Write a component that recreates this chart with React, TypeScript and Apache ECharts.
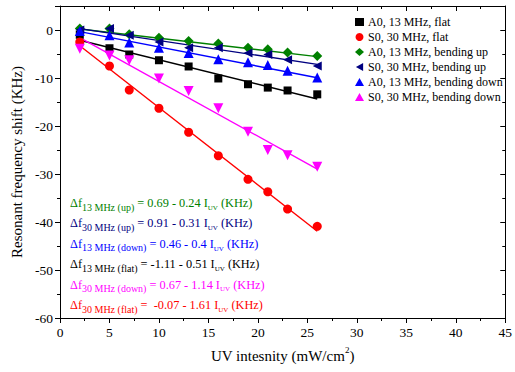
import React, { useEffect, useRef } from "react";
import * as echarts from "echarts";

const xs = [2, 5, 7, 10, 13, 16, 19, 21, 23, 26];
const seriesNames = [
  "A0, 13 MHz, flat",
  "S0, 30 MHz, flat",
  "A0, 13 MHz, bending up",
  "S0, 30 MHz, bending up",
  "A0, 13 MHz, bending down",
  "S0, 30 MHz, bending down",
];
const a0Flat = [-1.0, -3.8, -5.1, -6.3, -7.6, -10.1, -11.3, -12.0, -12.6, -13.4];
const s0Flat = [-2.5, -7.5, -12.5, -16.3, -21.3, -26.2, -31.1, -33.7, -37.3, -40.9];
const a0Up = [0.3, 0.3, -0.9, -1.6, -2.3, -2.8, -3.7, -4.0, -4.7, -5.4];
const s0Up = [0.0, 0.3, -1.1, -2.5, -3.7, -3.7, -4.8, -5.1, -6.2, -7.5];
const a0Down = [-0.2, -1.1, -2.6, -3.7, -4.8, -6.1, -6.7, -7.3, -8.5, -9.9];
const s0Down = [-3.9, -5.3, -6.3, -10.1, -12.7, -16.3, -21.2, -25.0, -26.1, -28.5];
const allValues = [a0Flat, s0Flat, a0Up, s0Up, a0Down, s0Down];

// linear fits (intercept, slope) as printed on the chart
const fitIntercepts = [-1.11, -0.07, 0.69, 0.91, 0.46, 0.67];
const fitSlopes = [-0.51, -1.61, -0.24, -0.31, -0.4, -1.14];

const colors = ["#000000", "#ff0000", "#008000", "#000080", "#0000ff", "#ff00ff"];
const symbols = ["rect", "circle", "diamond", "path://M0,5L9,0L9,10Z", "triangle", "triangle"];
const rotations = [0, 0, 0, 0, 0, 180];
const symbolSizes = [8, 9, 10, 9, 10, 10];

// equations text (order as displayed)
const eqSubs = ["13 MHz (up)", "30 MHz (up)", "13 MHz (down)", "13 MHz (flat)", "30 MHz (down)", "30 MHz (flat)"];
const eqBodies = [" = 0.69 - 0.24 I", " = 0.91 - 0.31 I", " = 0.46 - 0.4 I", " = -1.11 - 0.51 I", " = 0.67 - 1.14 I", " =  -0.07 - 1.61 I"];
const eqColors = ["#008000", "#000080", "#0000ff", "#000000", "#ff00ff", "#ff0000"];

const FONT = "'Liberation Serif', 'Times New Roman', serif";

export default function App() {
  const ref = useRef<HTMLDivElement>(null);
  useEffect(() => {
    if (!ref.current) return;
    const chart = echarts.init(ref.current, null, { renderer: "svg" });
    const scatterSeries = allValues.map((vals, i) => ({
      type: "scatter",
      name: seriesNames[i],
      data: xs.map((x, j) => [x, vals[j]]),
      symbol: symbols[i],
      symbolRotate: rotations[i],
      symbolSize: symbolSizes[i],
      itemStyle: { color: colors[i], opacity: 1 },
      z: 3,
    }));
    const fitSeries = fitIntercepts.map((a, i) => ({
      type: "line",
      name: "fit" + i,
      data: [xs[0], xs[xs.length - 1]].map((x) => [x, a + fitSlopes[i] * x]),
      showSymbol: false,
      symbol: "none",
      lineStyle: { color: colors[i], width: 1.4 },
      z: 2,
      silent: true,
    }));
    const eqTexts = eqSubs.map((s, i) => ({
      type: "text",
      left: 70,
      top: 197 + i * 20.4,
      style: {
        text: `{m|Δf}{s|${s}}{m|${eqBodies[i]}}{u|UV}{m| (KHz)}`,
        fill: eqColors[i],
        rich: {
          m: { fontFamily: FONT, fontSize: 12.3, color: eqColors[i], verticalAlign: "top", lineHeight: 16 },
          s: { fontFamily: FONT, fontSize: 10, color: eqColors[i], verticalAlign: "top", lineHeight: 10, padding: [5, 0, 0, 0] },
          u: { fontFamily: FONT, fontSize: 7, color: eqColors[i], verticalAlign: "top", lineHeight: 7, padding: [7.3, 0, 0, 0] },
        },
      },
    }));
    const axisLine = { show: true, onZero: false, lineStyle: { color: "#000", width: 1 } };
    chart.setOption({
      animation: false,
      textStyle: { fontFamily: FONT },
      grid: { left: 60, right: 6, top: 6, bottom: 54 },
      legend: {
        orient: "vertical",
        left: 350,
        top: 11,
        data: seriesNames,
        itemWidth: 9,
        itemHeight: 8,
        itemGap: 3,
        textStyle: { fontFamily: FONT, fontSize: 12, color: "#000", padding: [0, 0, 0, -1] },
      },
      xAxis: [
        {
          type: "value",
          min: 0,
          max: 45,
          interval: 5,
          position: "bottom",
          name: "UV intesnity (mW/cm{sup|2})",
          nameLocation: "middle",
          nameGap: 27,
          nameTextStyle: {
            fontFamily: FONT,
            fontSize: 15,
            color: "#000",
            rich: { sup: { fontFamily: FONT, fontSize: 9, verticalAlign: "top", lineHeight: 22, color: "#000" } },
          },
          axisLine,
          axisTick: { show: true, inside: false, length: 5, lineStyle: { color: "#000" } },
          minorTick: { show: true, splitNumber: 2, length: 3, lineStyle: { color: "#000" } },
          axisLabel: { fontFamily: FONT, fontSize: 13.5, color: "#000", margin: 7 },
          splitLine: { show: false },
        },
        {
          type: "value",
          min: 0,
          max: 45,
          interval: 5,
          position: "top",
          axisLine,
          axisTick: { show: true, inside: true, length: 5, lineStyle: { color: "#000" } },
          minorTick: { show: true, splitNumber: 2, length: 3, lineStyle: { color: "#000" } },
          axisLabel: { show: false },
          splitLine: { show: false },
        },
      ],
      yAxis: [
        {
          type: "value",
          min: -60,
          max: 5,
          interval: 10,
          position: "left",
          name: "Resonant frequency shift (KHz)",
          nameLocation: "middle",
          nameGap: 36,
          nameTextStyle: { fontFamily: FONT, fontSize: 15, color: "#000" },
          axisLine,
          axisTick: { show: true, inside: false, length: 5, lineStyle: { color: "#000" } },
          minorTick: { show: true, splitNumber: 2, length: 3, lineStyle: { color: "#000" } },
          axisLabel: {
            fontFamily: FONT,
            fontSize: 13.5,
            color: "#000",
            margin: 7,
            formatter: (v: number) => (v > 0 ? "" : String(v)),
          },
          splitLine: { show: false },
        },
        {
          type: "value",
          min: -60,
          max: 5,
          interval: 10,
          position: "right",
          axisLine,
          axisTick: { show: true, inside: true, length: 5, lineStyle: { color: "#000" } },
          minorTick: { show: true, splitNumber: 2, length: 3, lineStyle: { color: "#000" } },
          axisLabel: { show: false },
          splitLine: { show: false },
        },
      ],
      series: [...fitSeries, ...scatterSeries],
      graphic: eqTexts,
    });
    return () => chart.dispose();
  }, []);
  return <div ref={ref} style={{ position: "absolute", left: 0, top: 0, width: 515, height: 372 }} />;
}
